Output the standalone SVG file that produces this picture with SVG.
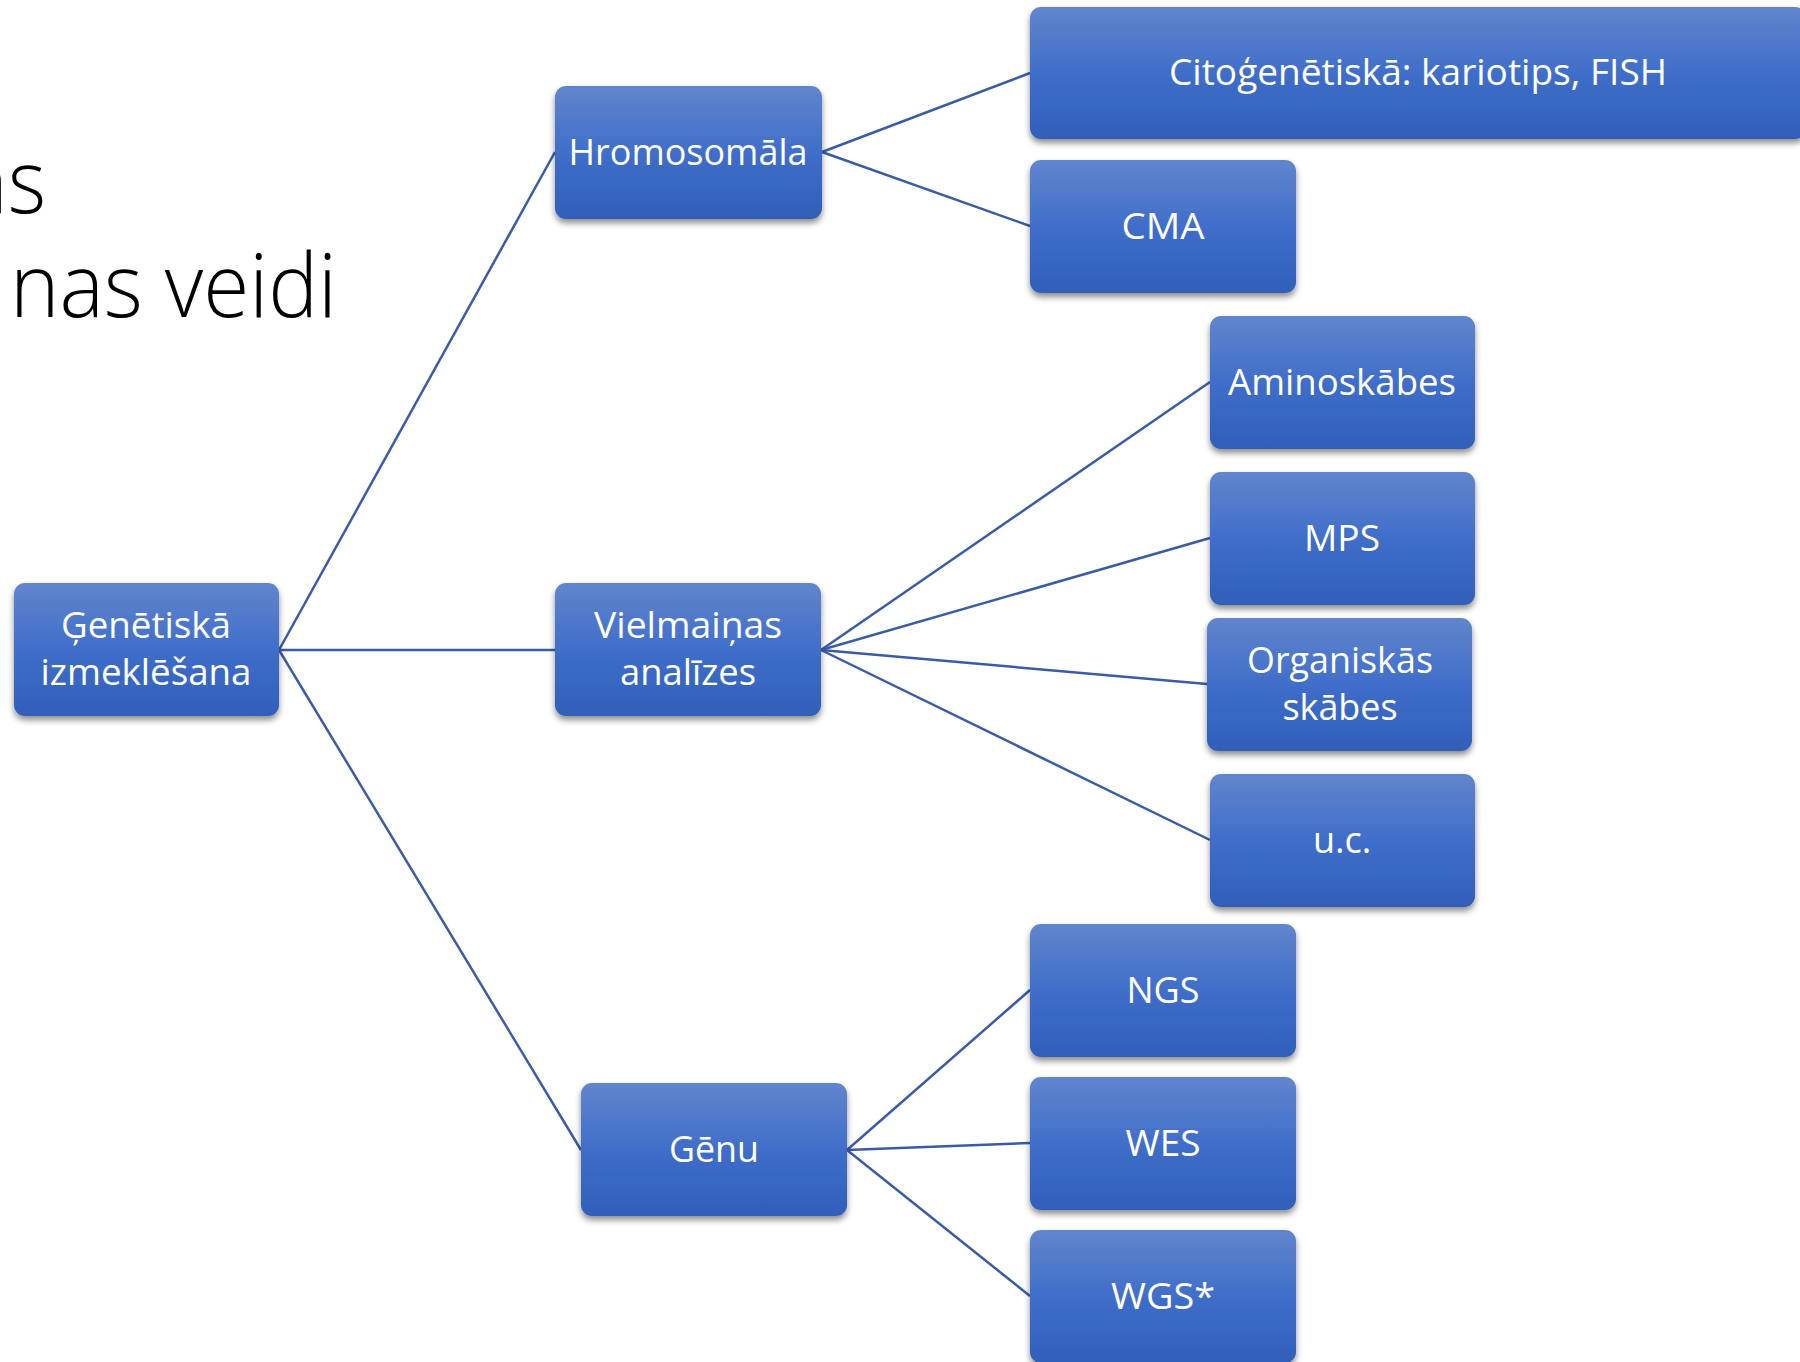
<svg xmlns="http://www.w3.org/2000/svg" width="1800" height="1362" viewBox="0 0 1800 1362">
<defs>
<linearGradient id="g" x1="0" y1="0" x2="0" y2="1">
<stop offset="0" stop-color="#6285cd"/>
<stop offset="0.5" stop-color="#3f6ec9"/>
<stop offset="1" stop-color="#2f5fb9"/>
</linearGradient>
<filter id="sh" x="-10%" y="-10%" width="120%" height="130%">
<feDropShadow dx="0" dy="4" stdDeviation="3" flood-color="#000" flood-opacity="0.45"/>
</filter>
<style>
.box{fill:url(#g);filter:url(#sh)}
.lbl{font-family:"Open Sans","Liberation Sans",sans-serif;font-size:36px;fill:#fff;text-anchor:middle}
.title{font-family:"Open Sans","Liberation Sans",sans-serif;font-weight:300;font-size:88px;fill:#000}
.con line{stroke:#3a5ca6;stroke-width:2.5;fill:none}
</style>
</defs>
<rect width="1800" height="1362" fill="#fff"/>
<text class="title" x="-36" y="213" textLength="82" lengthAdjust="spacingAndGlyphs">ās</text>
<text class="title" x="10" y="317" textLength="327" lengthAdjust="spacingAndGlyphs">nas veidi</text>
<g id="connectors" class="con">
<line x1="279" y1="650" x2="555" y2="152"/>
<line x1="279" y1="650" x2="555" y2="650"/>
<line x1="279" y1="650" x2="581" y2="1150"/>
<line x1="822" y1="152" x2="1030" y2="73"/>
<line x1="822" y1="152" x2="1030" y2="226"/>
<line x1="821" y1="650" x2="1210" y2="382"/>
<line x1="821" y1="650" x2="1210" y2="538"/>
<line x1="821" y1="650" x2="1207" y2="684"/>
<line x1="821" y1="650" x2="1210" y2="840"/>
<line x1="847" y1="1150" x2="1030" y2="990"/>
<line x1="847" y1="1150" x2="1030" y2="1143"/>
<line x1="847" y1="1150" x2="1030" y2="1296"/>
</g>
<g id="n-root"><rect class="box" x="14" y="583" width="265" height="133" rx="11"/>
<text class="lbl" x="146" y="638" textLength="170" lengthAdjust="spacingAndGlyphs">Ģenētiskā</text>
<text class="lbl" x="146" y="685" textLength="211" lengthAdjust="spacingAndGlyphs">izmeklēšana</text></g>
<g id="n-hromo"><rect class="box" x="555" y="86" width="267" height="133" rx="11"/>
<text class="lbl" x="688" y="165" textLength="239" lengthAdjust="spacingAndGlyphs">Hromosomāla</text></g>
<g id="n-viel"><rect class="box" x="555" y="583" width="266" height="133" rx="11"/>
<text class="lbl" x="688" y="638" textLength="188" lengthAdjust="spacingAndGlyphs">Vielmaiņas</text>
<text class="lbl" x="688" y="685" textLength="136" lengthAdjust="spacingAndGlyphs">analīzes</text></g>
<g id="n-genu"><rect class="box" x="581" y="1083" width="266" height="133" rx="11"/>
<text class="lbl" x="714" y="1162" textLength="90" lengthAdjust="spacingAndGlyphs">Gēnu</text></g>
<g id="n-cito"><rect class="box" x="1030" y="7" width="776" height="132" rx="11"/>
<text class="lbl" x="1418" y="85" textLength="498" lengthAdjust="spacingAndGlyphs">Citoģenētiskā: kariotips, FISH</text></g>
<g id="n-cma"><rect class="box" x="1030" y="160" width="266" height="133" rx="11"/>
<text class="lbl" x="1163" y="239" textLength="83" lengthAdjust="spacingAndGlyphs">CMA</text></g>
<g id="n-amino"><rect class="box" x="1210" y="316" width="265" height="133" rx="11"/>
<text class="lbl" x="1342" y="395" textLength="228" lengthAdjust="spacingAndGlyphs">Aminoskābes</text></g>
<g id="n-mps"><rect class="box" x="1210" y="472" width="265" height="133" rx="11"/>
<text class="lbl" x="1342" y="551" textLength="76" lengthAdjust="spacingAndGlyphs">MPS</text></g>
<g id="n-org"><rect class="box" x="1207" y="618" width="265" height="133" rx="11"/>
<text class="lbl" x="1340" y="673" textLength="186" lengthAdjust="spacingAndGlyphs">Organiskās</text>
<text class="lbl" x="1340" y="720" textLength="115" lengthAdjust="spacingAndGlyphs">skābes</text></g>
<g id="n-uc"><rect class="box" x="1210" y="774" width="265" height="133" rx="11"/>
<text class="lbl" x="1342" y="853">u.c.</text></g>
<g id="n-ngs"><rect class="box" x="1030" y="924" width="266" height="133" rx="11"/>
<text class="lbl" x="1163" y="1003" textLength="73" lengthAdjust="spacingAndGlyphs">NGS</text></g>
<g id="n-wes"><rect class="box" x="1030" y="1077" width="266" height="133" rx="11"/>
<text class="lbl" x="1163" y="1156" textLength="75" lengthAdjust="spacingAndGlyphs">WES</text></g>
<g id="n-wgs"><rect class="box" x="1030" y="1230" width="266" height="133" rx="11"/>
<text class="lbl" x="1163" y="1309" textLength="104" lengthAdjust="spacingAndGlyphs">WGS*</text></g>
</svg>
